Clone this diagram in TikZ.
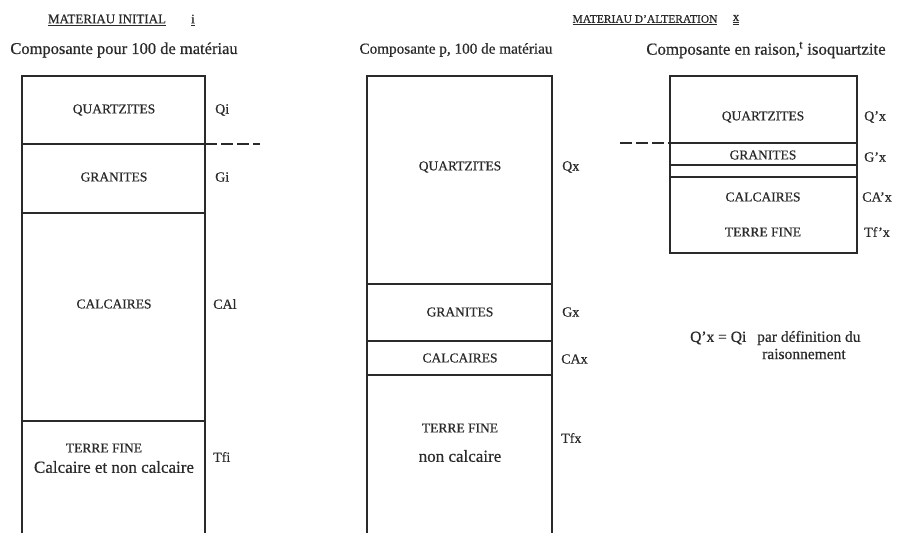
\documentclass[tikz,border=0pt]{standalone}
\usepackage{fontspec}
\setmainfont{Liberation Serif}[FakeBold=0.6]
\definecolor{ink}{HTML}{2A2A2A}
\begin{document}
\begin{tikzpicture}[x=1pt,y=-1pt,
  every node/.style={inner sep=0pt,text=ink},
  col/.style={draw=ink,line width=1.7pt},
  sep/.style={draw=ink,line width=1.5pt},
  dsh/.style={draw=ink,line width=1.5pt,dash pattern=on 12pt off 4pt},
  ttl/.style={font=\fontsize{13}{15}\selectfont},
  lab/.style={font=\fontsize{13.5}{16}\selectfont},
  low/.style={font=\fontsize{17}{19}\selectfont},
  side/.style={anchor=west,font=\fontsize{14}{16}\selectfont},
  note/.style={anchor=west,font=\fontsize{15.5}{17}\selectfont}]
\useasboundingbox (0,0) rectangle (901,533);

% ---------- titles
\node[ttl] (t1) at (107,20) {\underline{MATERIAU INITIAL}};
\node[ttl] (t1i) at (193,20) {\underline{i}};
\node[ttl,font=\fontsize{11.5}{14}\selectfont] (t2) at (645,20) {\underline{MATERIAU D'ALTERATION}};
\node[ttl] (t2x) at (736,20) {\underline{\underline{x}}};

% ---------- headings
\node[font=\fontsize{16.5}{18}\selectfont] (h1) at (124,50) {Composante pour 100 de matériau};
\node[font=\fontsize{15.2}{18}\selectfont] (h2) at (456,50) {Composante p, 100 de matériau};
\node[font=\fontsize{16.8}{18}\selectfont] (h3) at (766,50) {Composante en raison,\kern-0.5pt\textsuperscript{t} isoquartzite};

% ---------- left column
\draw[col] (22,533) -- (22,76) -- (205,76) -- (205,533);
\draw[sep] (22,144) -- (205,144);
\draw[sep] (22,213) -- (205,213);
\draw[sep] (22,421) -- (205,421);
\node[lab] (lq) at (114,110) {QUARTZITES};
\node[lab] (lg) at (114,177) {GRANITES};
\node[lab] (lc) at (114,304) {CALCAIRES};
\node[lab] (lt) at (104,448) {TERRE FINE};
\node[low] (ltc) at (114,467) {Calcaire et non calcaire};
\node[side] (qi) at (215,110) {Qi};
\node[side] (gi) at (215,177) {Gi};
\node[side] (cai) at (213,304) {CAl};
\node[side] (tfi) at (213,457) {Tfi};
\coordinate (dl1) at (205,144);
\coordinate (dl2) at (260,144);
\draw[dsh] (dl1) -- (dl2);

% ---------- middle column
\draw[col] (367,533) -- (367,76) -- (552,76) -- (552,533);
\draw[sep] (367,284) -- (552,284);
\draw[sep] (367,341) -- (552,341);
\draw[sep] (367,375) -- (552,375);
\node[lab] (mq) at (460,167) {QUARTZITES};
\node[lab] (mg) at (460,312) {GRANITES};
\node[lab] (mc) at (460,358) {CALCAIRES};
\node[lab] (mt) at (460,428) {TERRE FINE};
\node[low] (mtn) at (460,456) {non calcaire};
\node[side] (qx) at (562,167) {Qx};
\node[side] (gx) at (562,312) {Gx};
\node[side] (cax) at (561,359) {CAx};
\node[side] (tfx) at (561,438) {Tfx};

% ---------- right column
\draw[col] (670,76) rectangle (857,253);
\draw[sep] (670,143) -- (857,143);
\draw[sep] (670,165) -- (857,165);
\draw[sep] (670,177) -- (857,177);
\node[lab] (rq) at (763,117) {QUARTZITES};
\node[lab] (rg) at (763,155) {GRANITES};
\node[lab] (rc) at (763,197) {CALCAIRES};
\node[lab] (rt) at (763,232) {TERRE FINE};
\node[side] (qpx) at (864,117) {Q'x};
\node[side] (gpx) at (864,157) {G'x};
\node[side] (capx) at (862,197) {CA'x};
\node[side] (tfpx) at (864,232) {Tf'x};
\coordinate (dr1) at (620,143);
\coordinate (dr2) at (670,143);
\draw[dsh] (dr1) -- (dr2);

% ---------- note
\node[note] (n1) at (690,338) {Q'x = Qi};
\node[note] (n2) at (757,338) {par définition du};
\node[note] (n3) at (762,354) {raisonnement};
\end{tikzpicture}
\end{document}
